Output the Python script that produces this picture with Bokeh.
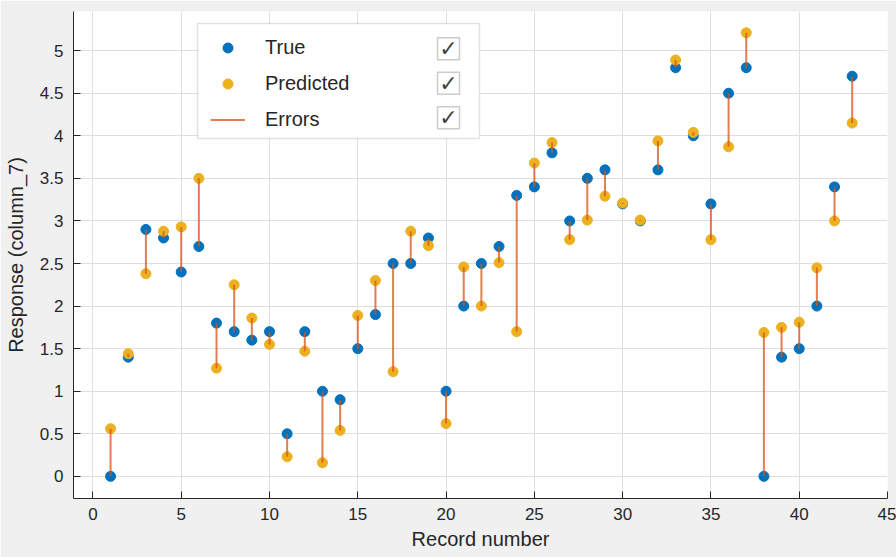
from bokeh.plotting import figure
from bokeh.models import (FixedTicker, CustomJSTickFormatter, Legend, LegendItem,
                          BoxAnnotation, Label, Range1d)
from bokeh.embed import file_html
from bokeh.resources import INLINE

# ---------------- data ----------------
record = list(range(1, 44))
true_vals = [0.0, 1.4, 2.9, 2.8, 2.4, 2.7, 1.8, 1.7, 1.6, 1.7,
             0.5, 1.7, 1.0, 0.9, 1.5, 1.9, 2.5, 2.5, 2.8, 1.0,
             2.0, 2.5, 2.7, 3.3, 3.4, 3.8, 3.0, 3.5, 3.6, 3.2,
             3.0, 3.6, 4.8, 4.0, 3.2, 4.5, 4.8, 0.0, 1.4, 1.5,
             2.0, 3.4, 4.7]
pred_vals = [0.56, 1.44, 2.38, 2.88, 2.93, 3.50, 1.27, 2.25, 1.86, 1.55,
             0.23, 1.47, 0.16, 0.54, 1.89, 2.30, 1.23, 2.88, 2.71, 0.62,
             2.46, 2.00, 2.51, 1.70, 3.68, 3.92, 2.78, 3.01, 3.29, 3.21,
             3.01, 3.94, 4.89, 4.04, 2.78, 3.87, 5.21, 1.69, 1.75, 1.81,
             2.45, 3.00, 4.15]
x_ticks = [0, 5, 10, 15, 20, 25, 30, 35, 40, 45]
y_ticks = [0, 0.5, 1, 1.5, 2, 2.5, 3, 3.5, 4, 4.5, 5]
legend_labels = ["True", "Predicted", "Errors"]

# ---------------- style ----------------
FONT = "Liberation Sans"
TXT = "#262626"
C_TRUE = "#0072BD"
C_PRED = "#EDB120"
C_ERR = "#D95319"

p = figure(width=896, height=557, output_backend="svg", toolbar_location=None,
           x_range=Range1d(-1.1, 45), y_range=Range1d(-0.26, 5.46),
           min_border_left=73, min_border_right=9, min_border_top=11,
           min_border_bottom=59, border_fill_color="#f0f0f0",
           background_fill_color="white", outline_line_color=None)

r_true = p.scatter(record, true_vals, size=10, fill_color=C_TRUE, line_color=C_TRUE)
r_pred = p.scatter(record, pred_vals, size=10, fill_color=C_PRED, line_color=C_PRED)
r_err = p.segment(record, true_vals, record, pred_vals, line_color=C_ERR,
                  line_width=2, line_alpha=0.75)

for ax in (p.xaxis[0], p.yaxis[0]):
    ax.axis_line_color = TXT
    ax.axis_line_width = 1
    ax.major_tick_line_color = TXT
    ax.major_tick_in = 7
    ax.major_tick_out = 0
    ax.minor_tick_line_color = None
    ax.major_label_text_font = FONT
    ax.major_label_text_font_size = "17px"
    ax.major_label_text_color = TXT
    ax.axis_label_text_font = FONT
    ax.axis_label_text_font_size = "20px"
    ax.axis_label_text_font_style = "normal"
    ax.axis_label_text_color = TXT
    ax.formatter = CustomJSTickFormatter(code="return tick.toString();")

p.xaxis.ticker = FixedTicker(ticks=x_ticks)
p.yaxis.ticker = FixedTicker(ticks=y_ticks)
p.xaxis.axis_label = "Record number"
p.yaxis.axis_label = "Response (column_7)"
p.xaxis.major_label_standoff = 9
p.xaxis.axis_label_standoff = 5
p.yaxis.major_label_standoff = 10
p.yaxis.axis_label_standoff = 10

p.grid.grid_line_color = "#dedede"
p.grid.grid_line_width = 1

# ---------------- legend ----------------
box = BoxAnnotation(left=124, right=406, bottom=360, top=475,
                    left_units="screen", right_units="screen",
                    bottom_units="screen", top_units="screen",
                    fill_color="white", fill_alpha=1.0,
                    line_color="#a0a0a0", line_width=1.5)
p.add_layout(box)

legend = Legend(items=[LegendItem(label=legend_labels[0], renderers=[r_true]),
                       LegendItem(label=legend_labels[1], renderers=[r_pred]),
                       LegendItem(label=legend_labels[2], renderers=[r_err])],
                location=(137, 361), padding=0, margin=0, spacing=0,
                glyph_width=35, glyph_height=25, label_height=36,
                label_standoff=20, label_width=150,
                border_line_color=None, background_fill_alpha=0.0,
                label_text_font=FONT, label_text_font_size="20px",
                label_text_color=TXT)
p.add_layout(legend)

# check boxes next to each legend entry
cb_left, cb_size = 364, 22
row_centers = [449.7, 415.3, 380.7]
for cy in row_centers:
    p.add_layout(BoxAnnotation(left=cb_left, right=cb_left + cb_size,
                               bottom=cy - cb_size / 2, top=cy + cb_size / 2,
                               left_units="screen", right_units="screen",
                               bottom_units="screen", top_units="screen",
                               fill_color="white", fill_alpha=1.0,
                               line_color="#555555", line_width=1.5))
    p.add_layout(Label(x=cb_left + cb_size / 2, y=cy, x_units="screen", y_units="screen",
                       text="\u2713", text_align="center", text_baseline="middle",
                       text_font="DejaVu Sans", text_font_size="22px",
                       text_color="#404040"))

open("out.html", "w").write(file_html(p, INLINE))
